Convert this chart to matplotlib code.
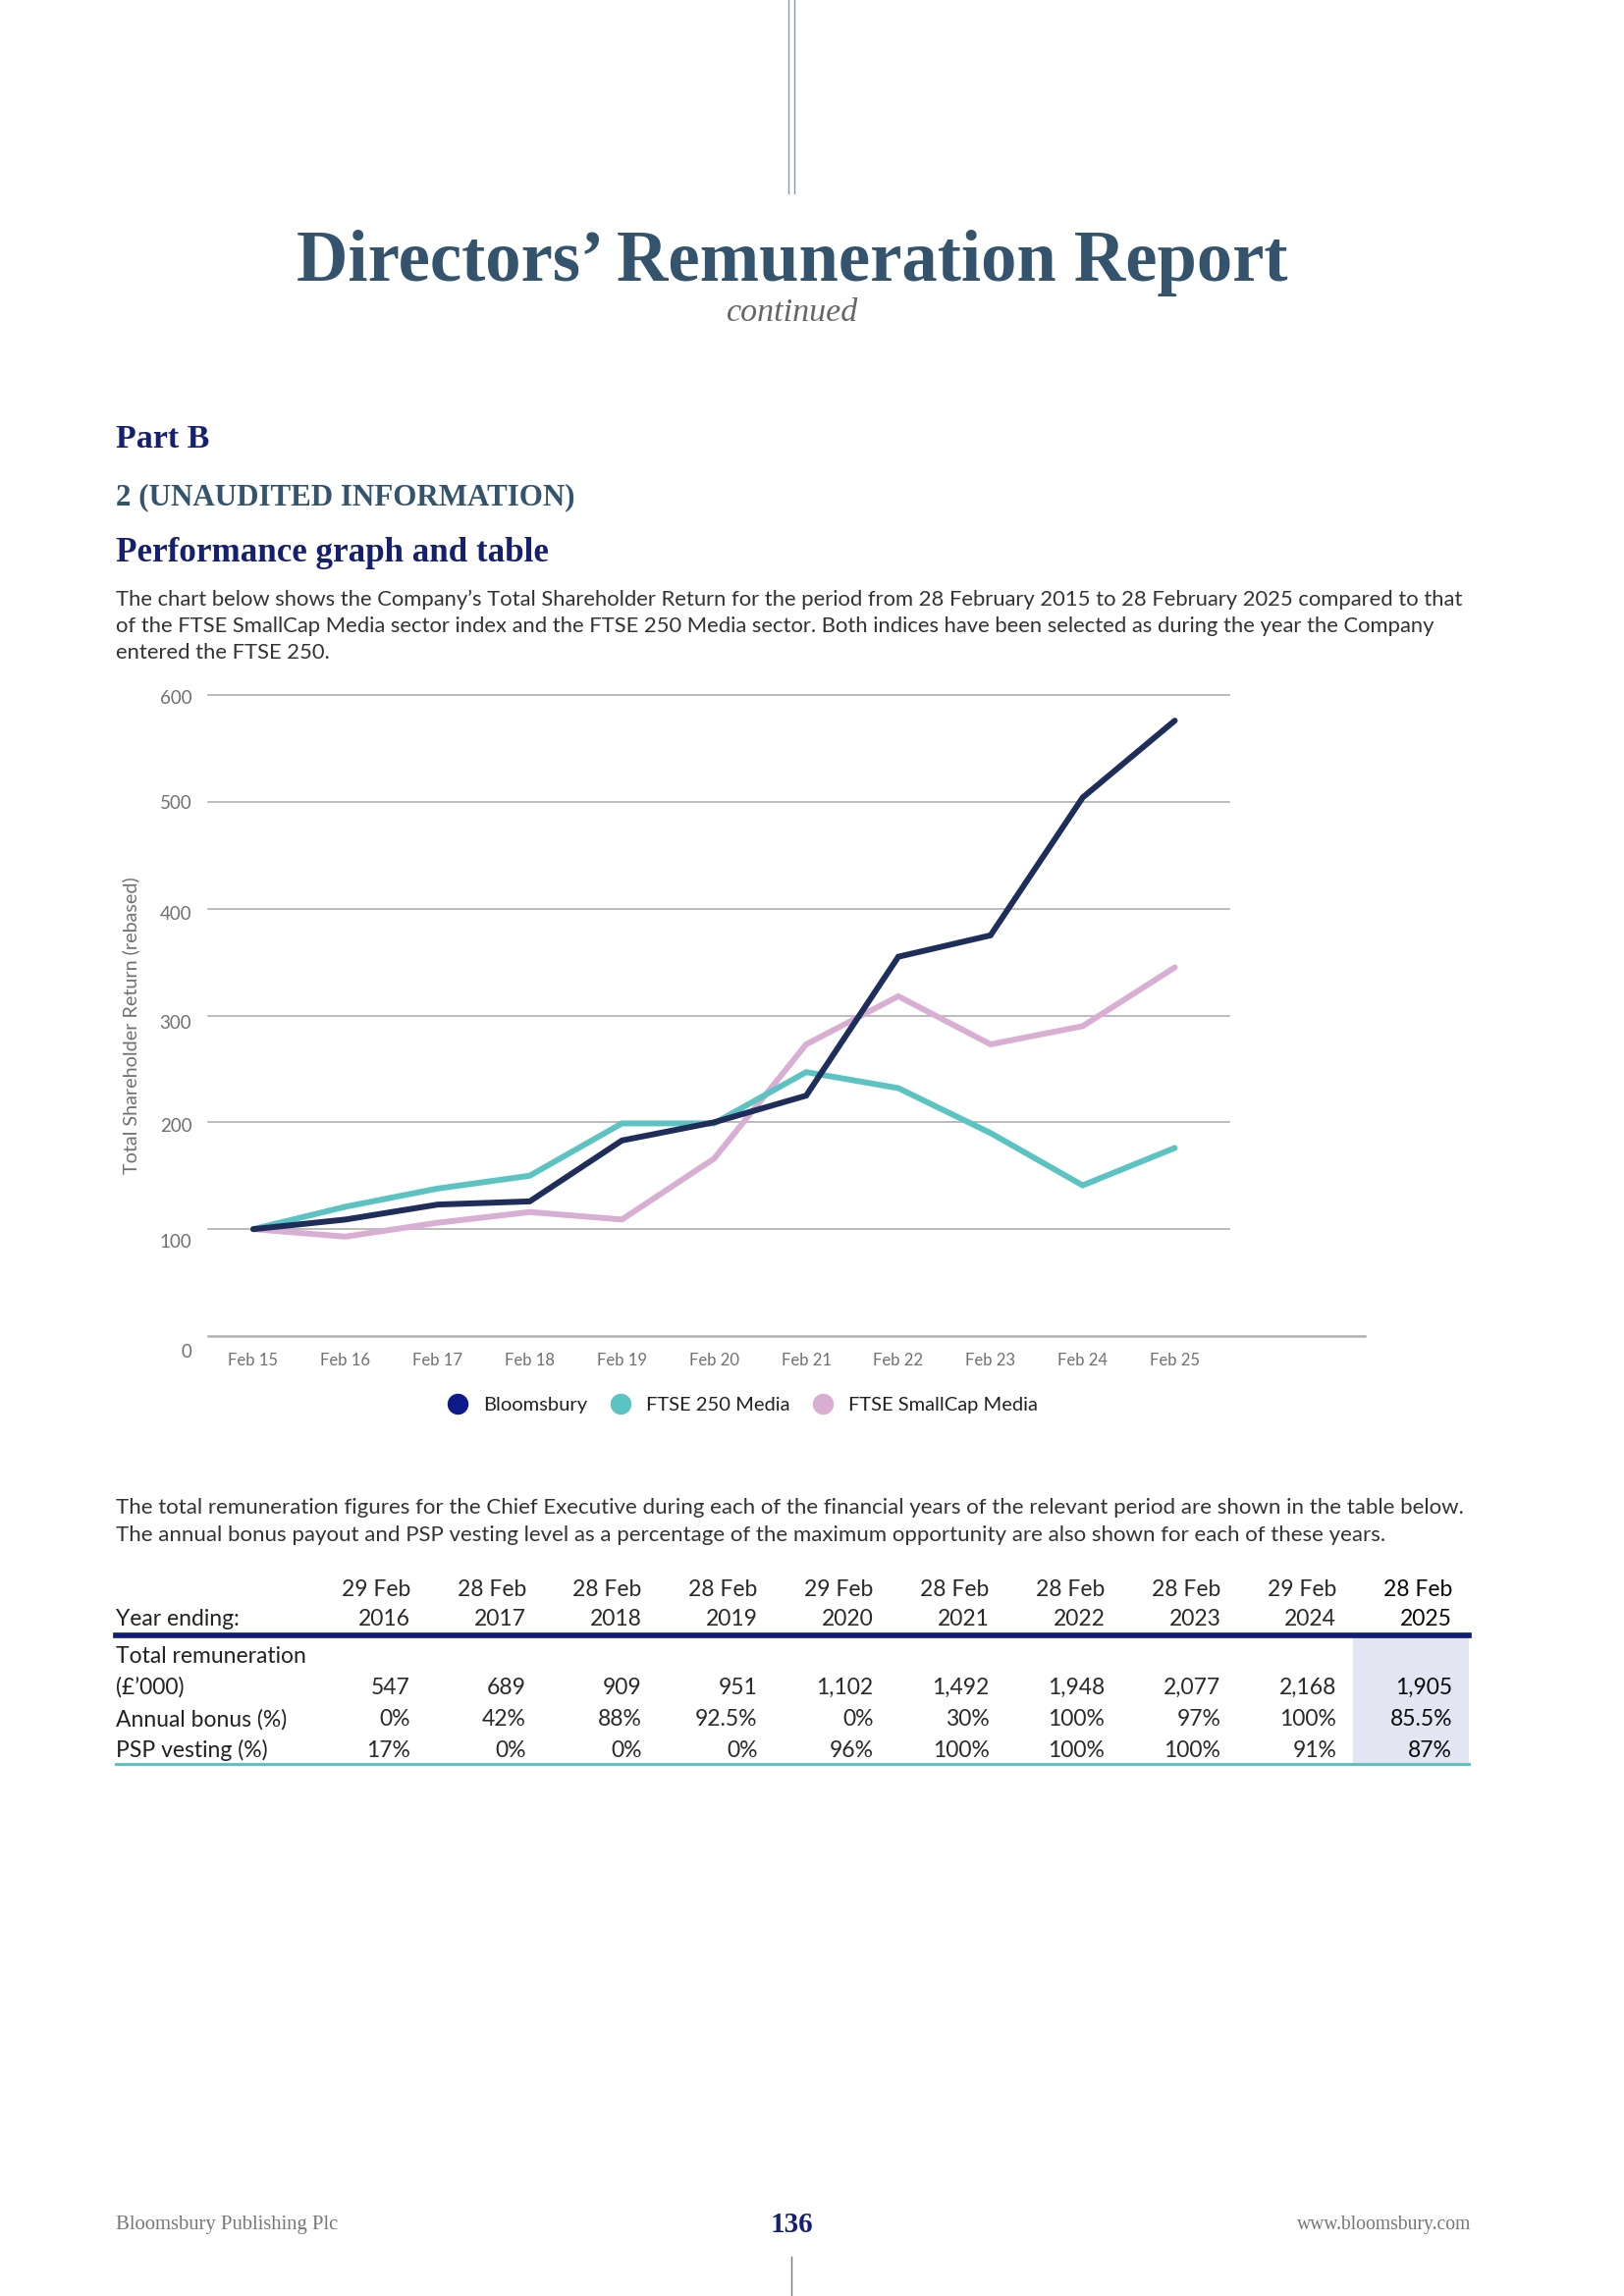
import matplotlib
matplotlib.use("Agg")
import matplotlib.pyplot as plt
from matplotlib.lines import Line2D
from matplotlib.patches import Rectangle
import matplotlib.transforms as mtransforms

W, H = 1654, 2339
DPI = 100

# ---------------- data ----------------
x_labels = ["Feb 15", "Feb 16", "Feb 17", "Feb 18", "Feb 19", "Feb 20",
            "Feb 21", "Feb 22", "Feb 23", "Feb 24", "Feb 25"]
bloomsbury = [100, 109, 123, 126, 183, 200, 225, 355, 375, 504, 576]
ftse250_media = [100, 121, 138, 150, 199, 199, 247, 232, 190, 141, 176]
smallcap_media = [100, 93, 106, 116, 109, 166, 273, 318, 273, 290, 345]
y_ticks = [0, 100, 200, 300, 400, 500, 600]
series_names = ["Bloomsbury", "FTSE 250 Media", "FTSE SmallCap Media"]

table_month = ["29 Feb", "28 Feb", "28 Feb", "28 Feb", "29 Feb",
               "28 Feb", "28 Feb", "28 Feb", "29 Feb", "28 Feb"]
table_year = ["2016", "2017", "2018", "2019", "2020",
              "2021", "2022", "2023", "2024", "2025"]
total_remuneration = [547, 689, 909, 951, 1102, 1492, 1948, 2077, 2168, 1905]
annual_bonus = [0, 42, 88, 92.5, 0, 30, 100, 97, 100, 85.5]
psp_vesting = [17, 0, 0, 0, 96, 100, 100, 100, 91, 87]

# ---------------- styles ----------------
SANS = ["Lato", "DejaVu Sans"]
SERIF = ["Liberation Serif", "DejaVu Serif"]
SLATE = "#34546e"
NAVY = "#15206e"
TXT = "#333333"
GRAY = "#707070"
line_colors = ["#1e2d5a", "#5bc4c2", "#d9aed3"]
legend_colors = ["#0e1a8a", "#5bc4c2", "#d9aed3"]

fig = plt.figure(figsize=(W / DPI, H / DPI), dpi=DPI)


def P(x, y):
    return x / W, 1 - y / H


def ftext(x, y, s, **kw):
    return fig.text(*P(x, y), s, **kw)


def hline(x0, x1, y, **kw):
    fig.add_artist(Line2D([x0 / W, x1 / W], [1 - y / H, 1 - y / H],
                          transform=fig.transFigure, **kw))


def vline(x, y0, y1, **kw):
    fig.add_artist(Line2D([x / W, x / W], [1 - y0 / H, 1 - y1 / H],
                          transform=fig.transFigure, **kw))


# decorative lines
vline(803, 0, 197, color="#8a9aa8", lw=1.0)
vline(809, 0, 197, color="#8a9aa8", lw=1.0)
vline(806, 2299, 2339, color="#777777", lw=1.0)

# titles
ftext(807, 268, "Directors’ Remuneration Report", ha="center", va="center",
      family=SERIF, weight="bold", size=52.3, color=SLATE)
ftext(807, 319, "continued", ha="center", va="center", family=SERIF,
      style="italic", size=24.5, color="#666666")
ftext(118, 448, "Part B", ha="left", va="center", family=SERIF,
      weight="bold", size=24.5, color=NAVY)
ftext(118, 507, "2 (UNAUDITED INFORMATION)", ha="left", va="center",
      family=SERIF, weight="bold", size=22.3, color=SLATE)
ftext(118, 564, "Performance graph and table", ha="left", va="center",
      family=SERIF, weight="bold", size=25.2, color=NAVY)

para1 = ["The chart below shows the Company’s Total Shareholder Return for the period from 28 February 2015 to 28 February 2025 compared to that",
         "of the FTSE SmallCap Media sector index and the FTSE 250 Media sector. Both indices have been selected as during the year the Company",
         "entered the FTSE 250."]
for i, s in enumerate(para1):
    ftext(118, 611 + i * 27, s, ha="left", va="center", family=SANS,
          size=15.85, color=TXT)

# ---------------- chart ----------------
ax_left, ax_right, ax_top, ax_bottom = 212, 1390, 708, 1361
ax = fig.add_axes([ax_left / W, 1 - ax_bottom / H,
                   (ax_right - ax_left) / W, (ax_bottom - ax_top) / H])
x = list(range(len(x_labels)))
first_x, last_x = 258, 1196.5
step = (last_x - first_x) / (len(x) - 1)
ax.set_xlim(-(first_x - ax_left) / step, len(x) - 1 + (ax_right - last_x) / step)
ax.set_ylim(0, 600)
grid_frac = (1252 - ax_left) / (ax_right - ax_left)
for v in y_ticks[1:]:
    ax.axhline(v, xmin=0, xmax=grid_frac, color="#a8a8a8", lw=1.1,
               clip_on=False, zorder=1)
ax.axhline(0, color="#b0b0b0", lw=1.8, clip_on=False, zorder=1)

ax.plot(x, smallcap_media, color=line_colors[2], lw=4.3, solid_capstyle="round",
        solid_joinstyle="miter", clip_on=False, zorder=3)
ax.plot(x, ftse250_media, color=line_colors[1], lw=4.3, solid_capstyle="round",
        solid_joinstyle="miter", clip_on=False, zorder=4)
ax.plot(x, bloomsbury, color=line_colors[0], lw=4.3, solid_capstyle="round",
        solid_joinstyle="miter", clip_on=False, zorder=5)

for sp in ax.spines.values():
    sp.set_visible(False)
ax.set_yticks(y_ticks)
ax.set_yticklabels([str(v) for v in y_ticks])
ax.set_xticks(x)
ax.set_xticklabels(x_labels)
ax.tick_params(axis="both", length=0, colors=GRAY)
ax.tick_params(axis="y", pad=12)
ax.tick_params(axis="x", pad=12)
label_drop_px = [15, 12, 3, 6, 4, 0, 2]
for lab, d in zip(ax.get_yticklabels(), label_drop_px):
    lab.set_fontfamily(SANS)
    lab.set_fontsize(13.5)
    lab.set_transform(lab.get_transform() +
                      mtransforms.ScaledTranslation(0, -d / DPI, fig.dpi_scale_trans))
for lab in ax.get_xticklabels():
    lab.set_fontfamily(SANS)
    lab.set_fontsize(12)
ax.patch.set_alpha(0)

ftext(133, 1045, "Total Shareholder Return (rebased)", ha="center",
      va="center", rotation=90, family=SANS, size=14.2, color=GRAY)

handles = [Line2D([], [], ls="none", marker="o", markersize=14.4,
                  markerfacecolor=c, markeredgecolor=c) for c in legend_colors]
leg = fig.legend(handles, series_names, loc="center left",
                 bbox_to_anchor=P(456, 1431), ncol=3, frameon=False,
                 borderpad=0, borderaxespad=0,
                 handletextpad=0.8, columnspacing=1.15, handlelength=1.0,
                 prop={"family": SANS, "size": 14.5})
for t in leg.get_texts():
    t.set_color("#222222")

# ---------------- table ----------------
para2 = ["The total remuneration figures for the Chief Executive during each of the financial years of the relevant period are shown in the table below.",
         "The annual bonus payout and PSP vesting level as a percentage of the maximum opportunity are also shown for each of these years."]
for i, s in enumerate(para2):
    ftext(118, 1536 + i * 28, s, ha="left", va="center", family=SANS,
          size=16, color=TXT)

tbl_left, tbl_right = 118, 1496
col_right0, col_step = 418, 117.9
n = len(table_year)
col_rights = [col_right0 + i * col_step for i in range(n)]

# highlight of last column
fig.add_artist(Rectangle(P(1378, 1796), (tbl_right - 1378) / W, (1796 - 1668) / H,
                         transform=fig.transFigure, facecolor="#e3e5f3",
                         edgecolor="none", zorder=0))

hline(tbl_left, tbl_right, 1666, color="#101e78", lw=4.1)
hline(tbl_left, tbl_right, 1797, color="#5bc4c2", lw=2.2)

TS = 16.5
row_y = {"month": 1619, "year": 1649, "rem1": 1687, "rem": 1719,
         "bonus": 1752, "psp": 1783}
ftext(118, row_y["year"], "Year ending:", ha="left", va="center", family=SANS,
      size=TS, color="#222222")
ftext(118, row_y["rem1"], "Total remuneration", ha="left", va="center",
      family=SANS, size=TS, color="#222222")
ftext(118, row_y["rem"], "(£’000)", ha="left", va="center", family=SANS,
      size=TS, color="#222222")
ftext(118, row_y["bonus"], "Annual bonus (%)", ha="left", va="center",
      family=SANS, size=TS, color="#222222")
ftext(118, row_y["psp"], "PSP vesting (%)", ha="left", va="center",
      family=SANS, size=TS, color="#222222")

for i in range(n):
    xr = col_rights[i]
    last = (i == n - 1)
    kw = dict(ha="right", va="center", family=SANS, size=TS,
              color="#0a0a0a" if last else "#2a2a2a")
    ftext(xr, row_y["month"], table_month[i], **kw)
    ftext(xr, row_y["year"], table_year[i], **kw)
    ftext(xr, row_y["rem"], f"{total_remuneration[i]:,}", **kw)
    ftext(xr, row_y["bonus"], f"{annual_bonus[i]:g}%", **kw)
    ftext(xr, row_y["psp"], f"{psp_vesting[i]:g}%", **kw)

# ---------------- footer ----------------
ftext(118, 2266, "Bloomsbury Publishing Plc", ha="left", va="center",
      family=SERIF, size=14.9, color="#777777")
ftext(806, 2266, "136", ha="center", va="center", family=SERIF,
      weight="bold", size=21, color=NAVY)
ftext(1498, 2266, "www.bloomsbury.com", ha="right", va="center",
      family=SERIF, size=14.1, color="#777777")

fig.savefig("out.png", dpi=DPI)
